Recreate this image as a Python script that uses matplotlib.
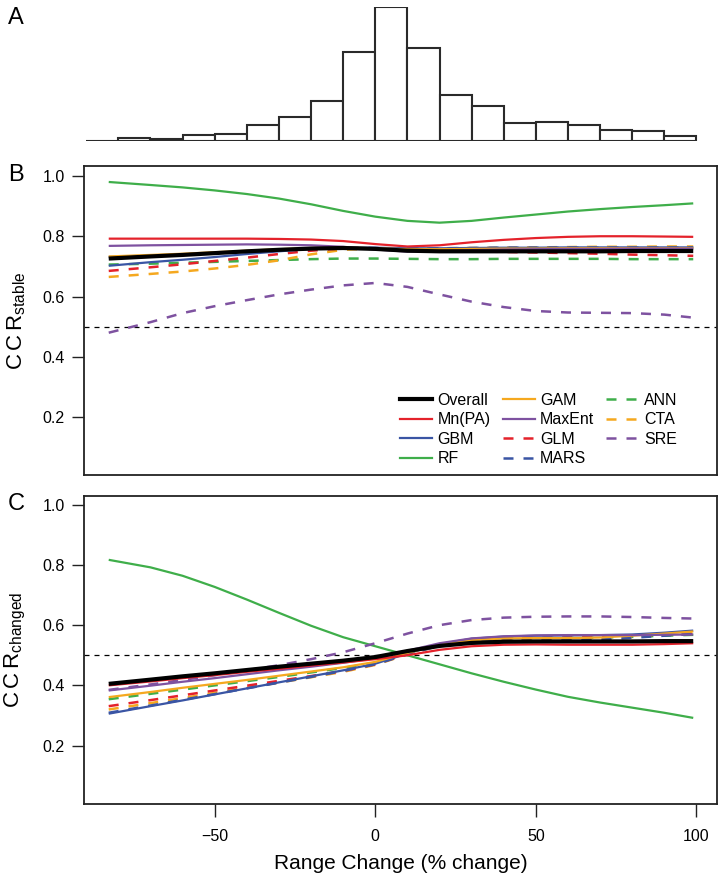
import numpy as np
import matplotlib
matplotlib.use("Agg")
import matplotlib.pyplot as plt
from matplotlib.lines import Line2D

plt.rcParams['font.family'] = ['Liberation Sans', 'DejaVu Sans']

# ---------------- data ----------------
hist_edges = [-90, -80, -70, -60, -50, -40, -30, -20, -10, 0, 10, 20, 30, 40, 50, 60, 70, 80, 90, 100]
hist_counts = [0, 3, 2, 6, 7, 16, 23, 39, 86, 130, 90, 45, 34, 17, 18, 16, 11, 10, 5]

x_grid = [-83, -70, -60, -50, -40, -30, -20, -10, 0, 10, 20, 30, 40, 50, 60, 70, 80, 90, 99]

# Panel B: CCR stable
b_overall = [.726, .733, .738, .744, .750, .755, .759, .761, .758, .752, .750, .750, .750, .750, .750, .750, .751, .751, .751]
b_mnpa    = [.792, .792, .792, .792, .792, .791, .789, .784, .774, .766, .770, .780, .788, .794, .798, .800, .800, .799, .798]
b_gbm     = [.702, .714, .722, .731, .741, .750, .758, .763, .762, .760, .760, .761, .762, .762, .763, .763, .763, .763, .763]
b_rf      = [.980, .970, .962, .952, .940, .925, .906, .884, .865, .851, .845, .851, .862, .872, .882, .890, .897, .903, .909]
b_gam     = [.733, .738, .742, .747, .752, .757, .761, .763, .760, .757, .757, .758, .759, .759, .760, .760, .760, .760, .760]
b_maxent  = [.768, .770, .771, .772, .773, .772, .770, .765, .756, .749, .751, .754, .756, .757, .758, .758, .759, .759, .759]
b_glm     = [.685, .697, .707, .718, .729, .741, .752, .760, .760, .755, .752, .750, .748, .746, .744, .742, .739, .737, .735]
b_mars    = [.731, .736, .740, .745, .750, .755, .760, .763, .761, .759, .760, .761, .762, .762, .762, .762, .762, .762, .762]
b_ann     = [.706, .709, .712, .715, .718, .721, .724, .726, .726, .725, .724, .724, .725, .725, .725, .725, .724, .724, .724]
b_cta     = [.665, .675, .683, .693, .705, .720, .740, .755, .760, .760, .760, .761, .762, .763, .764, .765, .765, .766, .766]
b_sre     = [.480, .515, .545, .568, .588, .607, .623, .637, .645, .632, .607, .583, .565, .552, .547, .546, .545, .540, .530]

# Panel C: CCR changed
c_overall = [.405, .419, .430, .440, .451, .462, .472, .482, .494, .514, .531, .541, .545, .546, .546, .546, .546, .547, .547]
c_mnpa    = [.400, .413, .424, .434, .445, .455, .466, .476, .487, .500, .518, .530, .535, .536, .535, .535, .535, .537, .540]
c_gbm     = [.306, .331, .350, .370, .390, .410, .430, .450, .472, .506, .537, .555, .562, .565, .566, .567, .569, .575, .582]
c_rf      = [.817, .792, .764, .727, .685, .641, .598, .560, .530, .500, .470, .440, .412, .386, .362, .343, .326, .309, .292]
c_gam     = [.361, .378, .392, .405, .418, .432, .446, .460, .478, .508, .535, .550, .556, .557, .557, .559, .565, .572, .579]
c_maxent  = [.383, .399, .412, .424, .437, .450, .462, .475, .490, .515, .540, .556, .563, .566, .567, .567, .567, .568, .569]
c_glm     = [.331, .351, .367, .383, .399, .415, .431, .448, .470, .505, .535, .550, .556, .558, .559, .561, .564, .568, .571]
c_mars    = [.309, .333, .352, .371, .390, .409, .428, .448, .470, .503, .532, .546, .549, .549, .550, .552, .558, .565, .571]
c_ann     = [.354, .372, .386, .400, .414, .428, .443, .458, .475, .507, .535, .550, .556, .558, .558, .559, .561, .565, .568]
c_cta     = [.320, .341, .358, .375, .392, .409, .427, .445, .468, .503, .532, .546, .550, .550, .551, .553, .560, .570, .577]
c_sre     = [.385, .403, .418, .434, .450, .467, .487, .510, .540, .572, .600, .617, .625, .628, .629, .629, .627, .624, .622]

series_names = ["Overall", "Mn(PA)", "GBM", "RF", "GAM", "MaxEnt", "GLM", "MARS", "ANN", "CTA", "SRE"]
b_values = [b_overall, b_mnpa, b_gbm, b_rf, b_gam, b_maxent, b_glm, b_mars, b_ann, b_cta, b_sre]
c_values = [c_overall, c_mnpa, c_gbm, c_rf, c_gam, c_maxent, c_glm, c_mars, c_ann, c_cta, c_sre]

x_ticks = [-50, 0, 50, 100]
y_ticks = [0.2, 0.4, 0.6, 0.8, 1.0]

# ---------------- styles ----------------
RED = '#E4222B'
BLUE = '#3A55A4'
GREEN = '#3FAE4A'
PURPLE = '#7E52A0'
ORANGE = '#F5A81F'
styles = {
    "Overall": dict(color='black', lw=3.0, ls='-'),
    "Mn(PA)": dict(color=RED, lw=1.6, ls='-'),
    "GBM": dict(color=BLUE, lw=1.6, ls='-'),
    "RF": dict(color=GREEN, lw=1.6, ls='-'),
    "GAM": dict(color=ORANGE, lw=1.6, ls='-'),
    "MaxEnt": dict(color=PURPLE, lw=1.6, ls='-'),
    "GLM": dict(color=RED, lw=1.8, ls=(0, (4, 4))),
    "MARS": dict(color=BLUE, lw=1.8, ls=(0, (4, 4))),
    "ANN": dict(color=GREEN, lw=1.8, ls=(0, (4, 4))),
    "CTA": dict(color=ORANGE, lw=1.8, ls=(0, (4, 4))),
    "SRE": dict(color=PURPLE, lw=1.8, ls=(0, (4, 4))),
}
draw_order = ["RF", "SRE", "ANN", "CTA", "GLM", "MARS", "GBM", "GAM", "MaxEnt", "Mn(PA)", "Overall"]

W, H = 718, 875
fig = plt.figure(figsize=(W / 100, H / 100), dpi=100)

def frac_axes(left, top, right, bottom):
    return fig.add_axes([left / W, 1 - bottom / H, (right - left) / W, (bottom - top) / H])

XLIM = (-90.7, 106.4)
TICK_FS = 11.5

# Panel A
axA = frac_axes(84, 7, 717, 141)
axA.bar(hist_edges[:-1], hist_counts, width=10, align='edge',
        facecolor='white', edgecolor='#2a2a2a', linewidth=1.5)
axA.set_xlim(XLIM)
axA.set_ylim(0, max(hist_counts))
axA.axis('off')

def style_axis(ax, ylim):
    ax.set_xlim(XLIM)
    ax.set_ylim(ylim)
    ax.set_yticks(y_ticks)
    ax.set_yticklabels([f"{v:.1f}" for v in y_ticks], fontsize=TICK_FS)
    ax.tick_params(axis='both', direction='out', length=9, width=1.0, color='#222222', pad=5)
    for s in ax.spines.values():
        s.set_linewidth(1.3)
        s.set_color('#222222')
    ax.axhline(0.5, color='black', lw=0.9, ls=(0, (4, 4)), zorder=1)

def draw_lines(ax, values):
    lookup = dict(zip(series_names, values))
    for name in draw_order:
        st = styles[name]
        ax.plot(x_grid, lookup[name], color=st['color'], lw=st['lw'], ls=st['ls'],
                solid_capstyle='butt', dash_capstyle='butt', zorder=3)

YLAB_X = -0.088
YLAB_FS = 16

# Panel B
axB = frac_axes(84, 166, 717, 475)
style_axis(axB, (0.008, 1.033))
draw_lines(axB, b_values)
axB.set_xticks([])
axB.set_ylabel(r'$\mathregular{C\,C\,R_{stable}}$', fontsize=YLAB_FS)
axB.yaxis.set_label_coords(YLAB_X, 0.5)

handles = [Line2D([], [], color=styles[n]['color'], lw=styles[n]['lw'], ls=styles[n]['ls'])
           for n in series_names]
axB.legend(handles, series_names, ncol=3, frameon=False, fontsize=TICK_FS,
           loc='lower left', bbox_to_anchor=((400 - 84) / 633, 0.028),
           handlelength=2.0, handletextpad=0.35, columnspacing=0.75,
           labelspacing=0.28, borderaxespad=0, borderpad=0)

# Panel C
axC = frac_axes(84, 496, 717, 804)
style_axis(axC, (0.006, 1.029))
draw_lines(axC, c_values)
axC.set_xticks(x_ticks)
axC.set_xticklabels(["\u221250", "0", "50", "100"], fontsize=TICK_FS)
axC.tick_params(axis='x', pad=9)
axC.set_xlabel('Range Change (% change)', fontsize=15, labelpad=7)
axC.set_ylabel(r'$\mathregular{C\,C\,R_{changed}}$', fontsize=YLAB_FS)
axC.yaxis.set_label_coords(YLAB_X, 0.5)

# Panel labels
for lab, ypx in [("A", 18), ("B", 175), ("C", 504)]:
    fig.text(8 / W, 1 - ypx / H, lab, fontsize=17, ha='left', va='center')

fig.savefig('out.png', dpi=100)
